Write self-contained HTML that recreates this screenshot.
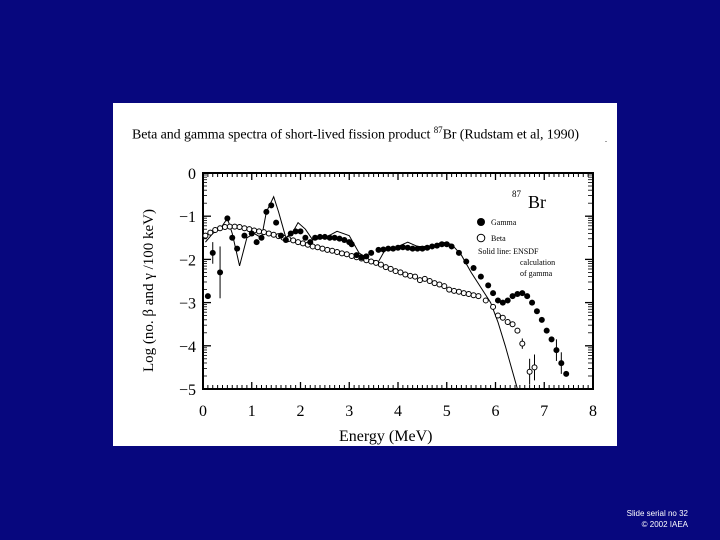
<!DOCTYPE html>
<html><head><meta charset="utf-8"><style>
body{margin:0;width:720px;height:540px;background:#07077e;position:relative;overflow:hidden;font-family:"Liberation Serif",serif}
#panel{position:absolute;left:113px;top:103px;width:504px;height:343px;background:#fff}
#title{position:absolute;left:132px;top:125px;font-size:14px;letter-spacing:-0.1px;color:#000;white-space:nowrap}
.foot{position:absolute;right:32px;font-family:"Liberation Sans",sans-serif;font-size:8px;color:#fff}
</style></head><body>
<div id="panel"></div>
<div id="title">Beta and gamma spectra of short-lived fission product <sup style="font-size:9px">87</sup>Br (Rudstam et al, 1990)</div>
<svg id="chart" width="720" height="540" style="position:absolute;left:0;top:0"></svg>
<div class="foot" style="top:509px">Slide serial no 32</div>
<div class="foot" style="top:520px">© 2002 IAEA</div>
<script>
const xTicks=[0,1,2,3,4,5,6,7,8];
const yTicks=[0,-1,-2,-3,-4,-5];
const gammaE=[0.1,0.2,0.35,0.5,0.6,0.7,0.85,1.0,1.1,1.2,1.3,1.4,1.5,1.6,1.7,1.8,1.9,2.0,2.1,2.2,2.3,2.4,2.5,2.6,2.7,2.8,2.9,3.0,3.05,3.15,3.25,3.35,3.45,3.6,3.7,3.8,3.9,4.0,4.1,4.2,4.3,4.4,4.5,4.6,4.7,4.8,4.9,5.0,5.1,5.25,5.4,5.55,5.7,5.85,5.95,6.05,6.15,6.25,6.35,6.45,6.55,6.65,6.75,6.85,6.95,7.05,7.15,7.25,7.35,7.45];
const gammaV=[-2.85,-1.85,-2.3,-1.05,-1.5,-1.75,-1.45,-1.4,-1.6,-1.5,-0.9,-0.75,-1.15,-1.45,-1.55,-1.4,-1.35,-1.35,-1.5,-1.6,-1.5,-1.48,-1.48,-1.5,-1.5,-1.52,-1.55,-1.6,-1.65,-1.9,-1.95,-1.93,-1.85,-1.78,-1.77,-1.75,-1.75,-1.73,-1.72,-1.73,-1.75,-1.75,-1.75,-1.73,-1.7,-1.68,-1.65,-1.65,-1.7,-1.85,-2.05,-2.2,-2.4,-2.6,-2.78,-2.95,-3.0,-2.95,-2.85,-2.8,-2.78,-2.85,-3.0,-3.2,-3.4,-3.65,-3.85,-4.1,-4.4,-4.65];
const betaE=[0.05,0.15,0.25,0.35,0.45,0.55,0.65,0.75,0.85,0.95,1.05,1.15,1.25,1.35,1.45,1.55,1.65,1.75,1.85,1.95,2.05,2.15,2.25,2.35,2.45,2.55,2.65,2.75,2.85,2.95,3.05,3.15,3.25,3.35,3.45,3.55,3.65,3.75,3.85,3.95,4.05,4.15,4.25,4.35,4.45,4.55,4.65,4.75,4.85,4.95,5.05,5.15,5.25,5.35,5.45,5.55,5.65,5.8,5.95,6.05,6.15,6.25,6.35,6.45,6.55,6.7,6.8];
const betaV=[-1.45,-1.38,-1.32,-1.28,-1.25,-1.24,-1.24,-1.25,-1.28,-1.3,-1.33,-1.35,-1.37,-1.4,-1.43,-1.46,-1.5,-1.53,-1.56,-1.6,-1.63,-1.66,-1.7,-1.72,-1.75,-1.78,-1.8,-1.83,-1.86,-1.88,-1.92,-1.95,-1.98,-2.02,-2.05,-2.08,-2.12,-2.18,-2.22,-2.27,-2.3,-2.35,-2.38,-2.4,-2.48,-2.45,-2.5,-2.55,-2.58,-2.62,-2.7,-2.73,-2.75,-2.78,-2.8,-2.83,-2.85,-2.95,-3.1,-3.3,-3.35,-3.45,-3.5,-3.65,-3.95,-4.6,-4.5];
const lineE=[0.05,0.2,0.35,0.5,0.6,0.75,0.9,1.05,1.2,1.3,1.45,1.55,1.7,1.85,1.95,2.1,2.25,2.5,2.75,3.0,3.2,3.4,3.6,3.75,4.0,4.2,4.4,4.7,4.9,5.1,5.3,5.5,5.7,5.9,6.05,6.2,6.35,6.45];
const lineV=[-1.6,-1.4,-1.3,-1.05,-1.4,-2.15,-1.5,-1.4,-1.5,-0.9,-0.55,-0.9,-1.5,-1.35,-1.15,-1.3,-1.55,-1.5,-1.35,-1.45,-1.85,-2.0,-2.05,-1.75,-1.7,-1.6,-1.7,-1.7,-1.6,-1.65,-1.9,-2.3,-2.65,-3.0,-3.45,-4.0,-4.6,-5.0];
const errE=[0.2,0.35,7.25,7.35,6.7,6.8,6.55];
const errV=[-1.85,-2.3,-4.1,-4.4,-4.6,-4.5,-3.95];
const errD=[0.25,0.6,0.25,0.25,0.3,0.3,0.12];
const NS='http://www.w3.org/2000/svg';
const svg=document.getElementById('chart');
const X0=203,X1=593,Y0=173,Y1=389;
const sx=e=>X0+(e/8)*(X1-X0);
const sy=v=>Y0+(-v/5)*(Y1-Y0);
function mk(t,a){const el=document.createElementNS(NS,t);for(const k in a)el.setAttribute(k,a[k]);svg.appendChild(el);return el;}
let f=mk('rect',{x:X0,y:Y0,width:X1-X0,height:Y1-Y0,fill:'none',stroke:'#000','stroke-width':2});


xTicks.forEach(t=>{
  let l=mk('line',{x1:sx(t),x2:sx(t),y1:Y1,y2:Y1-7,stroke:'#000','stroke-width':1.3});
  
  
  mk('line',{x1:sx(t),x2:sx(t),y1:Y0,y2:Y0+7,stroke:'#000','stroke-width':1.3});
  let tx=mk('text',{x:sx(t),y:416,'text-anchor':'middle','font-size':16,'font-family':'Liberation Serif, serif'});
  tx.textContent=t;
  
  
});
for(let i=0;i<=80;i++){if(i%10){mk('line',{x1:sx(i/10),x2:sx(i/10),y1:Y1,y2:Y1-4,stroke:'#000'});mk('line',{x1:sx(i/10),x2:sx(i/10),y1:Y0,y2:Y0+4,stroke:'#000'});}}
for(let d=0;d<5;d++){[1,2,3,4,5,6,7,8,9].forEach(m=>{const yy=sy(-d-1+Math.log10(m)) ;mk('line',{x1:X0,x2:X0+4,y1:yy,y2:yy,stroke:'#000','stroke-width':0.8});mk('line',{x1:X1,x2:X1-5,y1:yy,y2:yy,stroke:'#000','stroke-width':0.8});});}
yTicks.forEach(t=>{
  let l=mk('line',{x1:X0,x2:X0+8,y1:sy(t),y2:sy(t),stroke:'#000','stroke-width':1.3});
  
  
  mk('line',{x1:X1,x2:X1-8,y1:sy(t),y2:sy(t),stroke:'#000','stroke-width':1.3});
  let tx=mk('text',{x:196,y:sy(t)+6,'text-anchor':'end','font-size':16,'font-family':'Liberation Serif, serif'});
  tx.textContent=t===0?'0':'\u2212'+(-t);
  
  
});
let pts=lineE.map((e,i)=>sx(e)+','+sy(lineV[i])).join(' ');
let pl=mk('polyline',{points:pts,fill:'none',stroke:'#000','stroke-width':1});


errE.forEach((e,i)=>{
  let l=mk('line',{x1:sx(e),x2:sx(e),y1:sy(errV[i]-errD[i]),y2:sy(errV[i]+errD[i]),stroke:'#000'});
  
  
});
betaE.forEach((e,i)=>{
  let c=mk('circle',{cx:sx(e),cy:sy(betaV[i]),r:2.5,fill:'#fff',stroke:'#000','stroke-width':1});
  
  
});
gammaE.forEach((e,i)=>{
  let c=mk('circle',{cx:sx(e),cy:sy(gammaV[i]),r:3,fill:'#000'});
  
  
});
function t(x,y,s,txt,name,extra){let el=mk('text',Object.assign({x:x,y:y,'font-size':s,'font-family':'Liberation Serif, serif'},extra||{}));el.textContent=txt;

return el;}
t(339,441,16,'Energy (MeV)','x-axis-title');
t(0,0,15,'Log (no. \u03b2 and \u03b3 /100 keV)','y-axis-title',{transform:'translate(153,372) rotate(-90)'});
t(512,197,9,'87','isotope-superscript');
t(528,208,18,'Br','isotope-label');
let g1=mk('circle',{cx:481,cy:222,r:4,fill:'#000'});


t(491,225,8,'Gamma','legend-gamma');
let b1=mk('circle',{cx:481,cy:238,r:3.8,fill:'#fff',stroke:'#000'});


t(491,241,8,'Beta','legend-beta');
t(478,254,8,'Solid line: ENSDF','legend-line');
t(520,265,8,'calculation','legend-line-2');
t(520,276,8,'of gamma','legend-line-3');
t(605,142,8,'.','stray-dot');
</script>
</body></html>
